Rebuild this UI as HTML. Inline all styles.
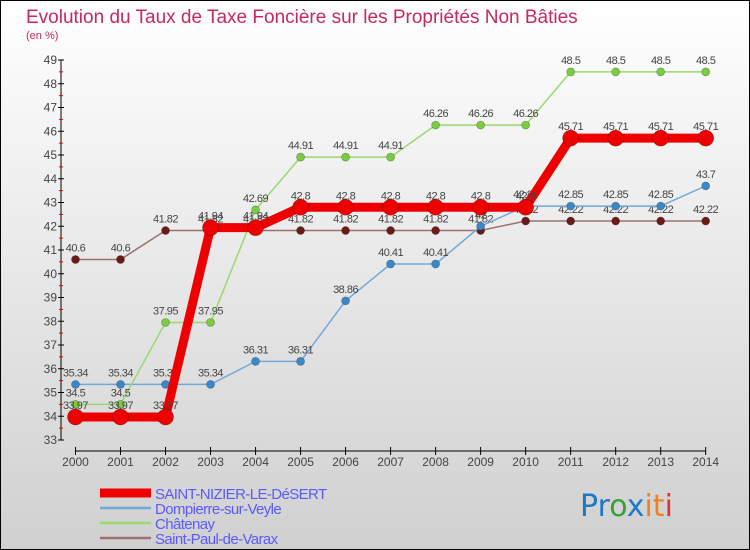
<!DOCTYPE html>
<html><head><meta charset="utf-8"><style>
body{margin:0;}
svg{display:block;font-family:"Liberation Sans",sans-serif;}
</style></head><body>
<svg id="chart" width="750" height="550" xmlns="http://www.w3.org/2000/svg">
<defs><linearGradient id="bg" x1="0" y1="0" x2="0" y2="1"><stop offset="0" stop-color="#ffffff"/><stop offset="1" stop-color="#d0d0d0"/></linearGradient></defs>
<rect x="0.5" y="0.5" width="749" height="549" fill="url(#bg)" stroke="#000"/>
<text x="26" y="23" font-size="19" fill="#c8285e">Evolution du Taux de Taxe Foncière sur les Propriétés Non Bâties</text>
<text x="26" y="39" font-size="11" fill="#c8285e">(en %)</text>
<g id="axes"></g>
<g id="series"></g>
<g id="legend"></g>
<text x="580" y="516" font-size="30" font-family="DejaVu Sans, sans-serif"><tspan fill="#1e78c8">Pr</tspan><tspan fill="#3aa03a">o</tspan><tspan fill="#1e78c8">x</tspan><tspan fill="#f08020">i</tspan><tspan fill="#f08020">t</tspan><tspan fill="#e03030">i</tspan></text>
</svg>
<script>
const years=[2000,2001,2002,2003,2004,2005,2006,2007,2008,2009,2010,2011,2012,2013,2014];
const yTicks=[33,34,35,36,37,38,39,40,41,42,43,44,45,46,47,48,49];
const seriesNames=["SAINT-NIZIER-LE-DéSERT","Dompierre-sur-Veyle","Châtenay","Saint-Paul-de-Varax"];
const stNizier=[33.97,33.97,33.97,41.94,41.94,42.8,42.8,42.8,42.8,42.8,42.8,45.71,45.71,45.71,45.71];
const dompierre=[35.34,35.34,35.34,35.34,36.31,36.31,38.86,40.41,40.41,42.0,42.85,42.85,42.85,42.85,43.7];
const chatenay=[34.5,34.5,37.95,37.95,42.69,44.91,44.91,44.91,46.26,46.26,46.26,48.5,48.5,48.5,48.5];
const stPaul=[40.6,40.6,41.82,41.82,41.82,41.82,41.82,41.82,41.82,41.82,42.22,42.22,42.22,42.22,42.22];

const NS="http://www.w3.org/2000/svg";
const xS=i=>75.5+i*(705.7-75.5)/(years.length-1);
const yS=v=>440-(v-33)*23.75;
function mk(tag,attrs,parent){const e=document.createElementNS(NS,tag);for(const k in attrs)e.setAttribute(k,attrs[k]);parent.appendChild(e);return e;}
const axes=document.getElementById('axes');
let yl=mk('line',{x1:61,y1:yS(49),x2:61,y2:yS(33),stroke:'#000'},axes);


yTicks.forEach(t=>{
 mk('line',{x1:58,x2:64,y1:yS(t),y2:yS(t),stroke:'#000'},axes);
 if(t<49) mk('line',{x1:59,x2:63,y1:yS(t+0.5),y2:yS(t+0.5),stroke:'#e00'},axes);
 const tx=mk('text',{x:57,y:yS(t)+4,'font-size':12,'text-anchor':'end',fill:'#444'},axes);
 tx.textContent=t;
 
 
});
let xl=mk('line',{x1:75,y1:451,x2:706,y2:451,stroke:'#000'},axes);


years.forEach((y,i)=>{
 mk('line',{x1:xS(i),x2:xS(i),y1:447,y2:455,stroke:'#000'},axes);
 const tx=mk('text',{x:xS(i),y:466,'font-size':12,'text-anchor':'middle',fill:'#444'},axes);
 tx.textContent=y;
 
 
});
const sg=document.getElementById('series');
function draw(data,line,dot,w,r,name,labelDy){
 const g=mk('g',{},sg);
 
 
 mk('polyline',{points:data.map((v,i)=>xS(i)+','+yS(v)).join(' '),fill:'none',stroke:line,'stroke-width':w,'stroke-linejoin':'round'},g);
 data.forEach((v,i)=>{
  const c=mk('circle',{cx:xS(i),cy:yS(v),r:r,fill:dot,stroke:'rgba(0,0,0,0.3)','stroke-width':0.7},g);
  
  
  const t=mk('text',{x:xS(i),y:yS(v)-labelDy,'font-size':11,'text-anchor':'middle',fill:'#444','letter-spacing':'-0.5'},g);
  t.textContent=v;
  
  
 });
}
draw(stPaul,'#a07070','#6a1a1a',1.5,4,'series-saint-paul',8);
draw(dompierre,'#70a8d8','#3a88c8',1.5,4,'series-dompierre',8);
draw(chatenay,'#9ad870','#7acc40',1.5,4,'series-chatenay',8);
draw(stNizier,'#ee0000','#ee0000',9,8,'series-saint-nizier',8);
const lg=document.getElementById('legend');
const lcol=['#ee0000','#70a8d8','#9ad870','#a07070'];
const lw=[9,2.5,2.5,2.5];
seriesNames.forEach((n,i)=>{
 const y=490+i*15;
 const g=mk('g',{},lg);
 
 
 mk('line',{x1:100,x2:151,y1:y+3,y2:y+3,stroke:lcol[i],'stroke-width':lw[i]},g);
 const t=mk('text',{x:155,y:y+9,'font-size':15,fill:'#5a5aff','letter-spacing':'-0.6'},g);
 t.textContent=n;
});
</script>
</body></html>
